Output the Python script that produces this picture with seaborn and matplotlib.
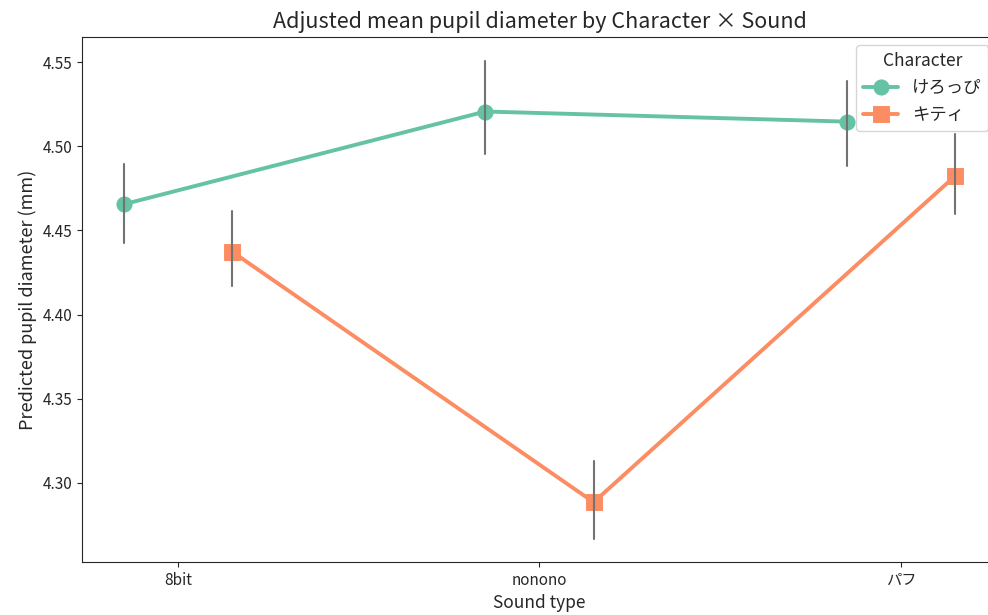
import pandas as pd
import numpy as np
import matplotlib
matplotlib.use('Agg')
import matplotlib.pyplot as plt
import seaborn as sns

# estimated values (mean, lower, upper)
sounds = ['8bit', 'nonono', 'パフ']
characters = ['けろっぴ', 'キティ']
kero_mean = [4.4655, 4.5206, 4.5146]
kero_lo = [4.4427, 4.4955, 4.4882]
kero_hi = [4.4894, 4.5505, 4.5386]
kitty_mean = [4.4373, 4.2885, 4.4823]
kitty_lo = [4.4169, 4.2664, 4.4600]
kitty_hi = [4.4613, 4.3132, 4.5074]

# long table: median of (lo, mean, hi) is the mean, full range is the interval
rows = []
for name, m, lo, hi in [(characters[0], kero_mean, kero_lo, kero_hi),
                        (characters[1], kitty_mean, kitty_lo, kitty_hi)]:
    for s, a, b, c in zip(sounds, lo, m, hi):
        for v in (a, b, c):
            rows.append({'Sound': s, 'Character': name, 'value': v})
df = pd.DataFrame(rows)

sns.set_style('ticks', {'axes.spines.right': True, 'axes.spines.top': True})
plt.rcParams['font.family'] = ['Noto Sans CJK JP', 'DejaVu Sans']

fig = plt.figure(figsize=(9.88, 6.15), dpi=100)
ax = fig.add_axes([0.083, 0.0862, 0.926, 0.854])

sns.pointplot(data=df, x='Sound', y='value', hue='Character',
              order=sounds, hue_order=characters,
              estimator='median', errorbar=('pi', 100),
              dodge=0.3, markers=['o', 's'], linestyles=['-', '-'],
              palette='Set2', markersize=9.5, linewidth=2.8,
              err_kws={'color': '0.45', 'linewidth': 1.5}, ax=ax)

ax.set_xlim(-0.2656, 2.2656)
ax.set_ylim(4.253, 4.565)
ax.set_yticks([4.30, 4.35, 4.40, 4.45, 4.50, 4.55])
ax.set_title('Adjusted mean pupil diameter by Character × Sound', fontsize=15.5)
ax.set_xlabel('Sound type', fontsize=12.5)
ax.set_ylabel('Predicted pupil diameter (mm)', fontsize=13)
ax.tick_params(labelsize=11)
ax.legend(title='Character', loc='upper right', fontsize=12.5, title_fontsize=12.5)

fig.savefig('out.png', dpi=100)
